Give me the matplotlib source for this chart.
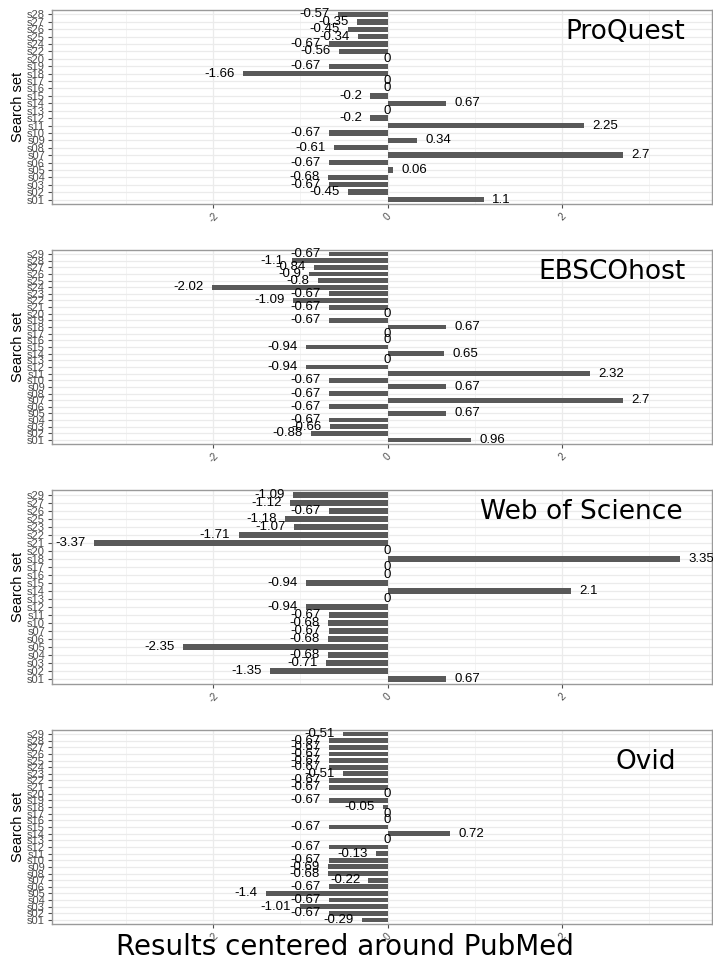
import matplotlib
matplotlib.use('Agg')
import matplotlib.pyplot as plt
import numpy as np

# search sets (top to bottom) and values, one list per database
proquest_sets = ['s28', 's27', 's26', 's25', 's24', 's22', 's20', 's19', 's18', 's17', 's16', 's15', 's14',
                 's13', 's12', 's11', 's10', 's09', 's08', 's07', 's06', 's05', 's04', 's03', 's02', 's01']
proquest_vals = [-0.57, -0.35, -0.45, -0.34, -0.67, -0.56, 0, -0.67, -1.66, 0, 0, -0.2, 0.67,
                 0, -0.2, 2.25, -0.67, 0.34, -0.61, 2.7, -0.67, 0.06, -0.68, -0.67, -0.45, 1.1]

ebsco_sets = ['s29', 's28', 's27', 's26', 's25', 's24', 's23', 's22', 's21', 's20', 's19', 's18', 's17', 's16',
              's15', 's14', 's13', 's12', 's11', 's10', 's09', 's08', 's07', 's06', 's05', 's04', 's03', 's02', 's01']
ebsco_vals = [-0.67, -1.1, -0.84, -0.9, -0.8, -2.02, -0.67, -1.09, -0.67, 0, -0.67, 0.67, 0, 0,
              -0.94, 0.65, 0, -0.94, 2.32, -0.67, 0.67, -0.67, 2.7, -0.67, 0.67, -0.67, -0.66, -0.88, 0.96]

wos_sets = ['s29', 's27', 's26', 's25', 's23', 's22', 's21', 's20', 's18', 's17', 's16', 's15', 's14',
            's13', 's12', 's11', 's10', 's07', 's06', 's05', 's04', 's03', 's02', 's01']
wos_vals = [-1.09, -1.12, -0.67, -1.18, -1.07, -1.71, -3.37, 0, 3.35, 0, 0, -0.94, 2.1,
            0, -0.94, -0.67, -0.68, -0.67, -0.68, -2.35, -0.68, -0.71, -1.35, 0.67]

ovid_sets = ['s29', 's28', 's27', 's26', 's25', 's24', 's23', 's22', 's21', 's20', 's19', 's18', 's17', 's16',
             's15', 's14', 's13', 's12', 's11', 's10', 's09', 's08', 's07', 's06', 's05', 's04', 's03', 's02', 's01']
ovid_vals = [-0.51, -0.67, -0.67, -0.67, -0.67, -0.67, -0.51, -0.67, -0.67, 0, -0.67, -0.05, 0, 0,
             -0.67, 0.72, 0, -0.67, -0.13, -0.67, -0.69, -0.68, -0.22, -0.67, -1.4, -0.67, -1.01, -0.67, -0.29]

panels = [('ProQuest', proquest_sets, proquest_vals, 0.96, 0.885),
          ('EBSCOhost', ebsco_sets, ebsco_vals, 0.96, 0.885),
          ('Web of Science', wos_sets, wos_vals, 0.955, 0.885),
          ('Ovid', ovid_sets, ovid_vals, 0.945, 0.835)]

W, H = 713, 963
fig = plt.figure(figsize=(W / 100, H / 100), dpi=100)

tops = [10, 250, 490, 730]
ph = 194
left, right = 52, 712

for (name, sets, vals, tx, ty), top in zip(panels, tops):
    ax = fig.add_axes([left / W, 1 - (top + ph) / H, (right - left) / W, ph / H])
    n = len(sets)
    ypos = np.arange(n)[::-1]  # first entry on top
    ax.barh(ypos, vals, height=0.72, color='#595959', zorder=3)
    for y, v in zip(ypos, vals):
        lab = '%g' % v
        if v < 0:
            ax.annotate(lab, (v, y), xytext=(-6, 0), textcoords='offset points',
                        ha='right', va='center', fontsize=9.5, family='Liberation Sans', zorder=4)
        elif v > 0:
            ax.annotate(lab, (v, y), xytext=(6, 0), textcoords='offset points',
                        ha='left', va='center', fontsize=9.5, family='Liberation Sans', zorder=4)
        else:
            ax.annotate('0', (0, y), ha='center', va='center', fontsize=9.5,
                        family='Liberation Sans', zorder=4)
    ax.set_xlim(-3.85, 3.72)
    ax.set_ylim(-0.6, n - 0.4)
    ax.set_yticks(ypos)
    ax.set_yticklabels(sets, fontsize=8, color='#4d4d4d', family='Liberation Sans')
    ax.set_xticks([-2, 0, 2])
    ax.set_xticklabels(['-2', '0', '2'], fontsize=7.5, color='#4d4d4d', rotation=45,
                       family='Liberation Sans')
    ax.set_xticks([-3, -1, 1, 3], minor=True)
    ax.tick_params(axis='both', which='major', length=3, color='#4d4d4d', pad=2)
    ax.tick_params(axis='x', which='minor', length=0)
    ax.grid(True, which='major', color='#ebebeb', lw=0.9, zorder=0)
    ax.grid(True, which='minor', axis='x', color='#f2f2f2', lw=0.6, zorder=0)
    ax.set_axisbelow(True)
    for s in ax.spines.values():
        s.set_color('#9a9a9a')
        s.set_linewidth(1.0)
    ax.set_ylabel('Search set', fontsize=10.5, family='Liberation Sans')
    ax.yaxis.set_label_coords(-0.041, 0.5)
    ax.text(tx, ty, name, transform=ax.transAxes, ha='right', va='center', fontsize=19)

fig.text(345 / W, 1 - 955 / H, 'Results centered around PubMed', ha='center', va='baseline', fontsize=20)

fig.savefig('out.png', dpi=100)
